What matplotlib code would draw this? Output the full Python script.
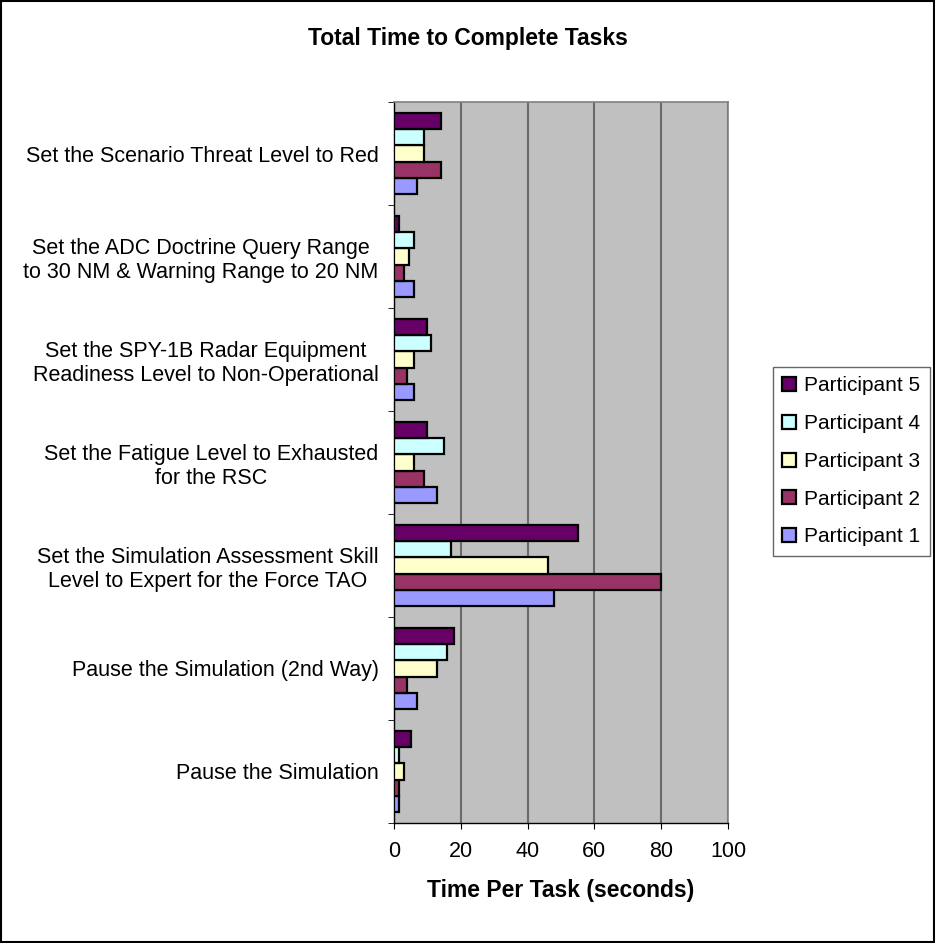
import matplotlib
matplotlib.use("Agg")
import matplotlib.pyplot as plt
import numpy as np

plt.rcParams['font.family'] = ['Liberation Sans', 'DejaVu Sans']

categories = [
    "Pause the Simulation",
    "Pause the Simulation (2nd Way)",
    "Set the Simulation Assessment Skill\nLevel to Expert for the Force TAO",
    "Set the Fatigue Level to Exhausted\nfor the RSC",
    "Set the SPY-1B Radar Equipment\nReadiness Level to Non-Operational",
    "Set the ADC Doctrine Query Range\nto 30 NM & Warning Range to 20 NM",
    "Set the Scenario Threat Level to Red",
]
series_names = ["Participant 1", "Participant 2", "Participant 3", "Participant 4", "Participant 5"]
p1 = [1.6, 7, 48, 13, 6, 6, 7]
p2 = [1.6, 4, 80, 9, 4, 3, 14]
p3 = [3, 13, 46, 6, 6, 4.5, 9]
p4 = [1.6, 16, 17, 15, 11, 6, 9]
p5 = [5, 18, 55, 10, 10, 1.6, 14]
series = [p1, p2, p3, p4, p5]
colors = ["#9999FF", "#993366", "#FFFFCC", "#CCFFFF", "#660066"]
x_ticks = [0, 20, 40, 60, 80, 100]

fig = plt.figure(figsize=(9.35, 9.43), dpi=100)
ax = fig.add_axes([0.4214, 0.1273, 0.3572, 0.7645])
ax.set_facecolor("#C0C0C0")

n = len(series)
bh = 0.157
y = np.arange(len(categories))
for i, (vals, c, name) in enumerate(zip(series, colors, series_names)):
    ax.barh(y + (i - (n - 1) / 2) * bh, vals, height=bh, color=c,
            edgecolor="black", linewidth=1.6, label=name, zorder=3)

ax.set_xlim(0, 100)
ax.set_ylim(-0.5, len(categories) - 0.5)
ax.set_xticks(x_ticks)
ax.set_xticklabels([str(t) for t in x_ticks], fontsize=15.5)
ax.xaxis.grid(True, color="#6a6a6a", linewidth=1.5, zorder=1)
ax.set_axisbelow(True)

ax.set_yticks(y)
ax.set_yticklabels(categories, fontsize=15.5)
for lbl in ax.get_yticklabels():
    lbl.set_multialignment('center')
ax.set_yticks(np.arange(-0.5, len(categories), 1.0), minor=True)
ax.tick_params(axis='y', which='major', length=0, pad=11)
ax.tick_params(axis='y', which='minor', length=4, direction='out', color='black')
ax.tick_params(axis='x', which='major', length=4, direction='out', pad=9)

for s in ['top', 'right']:
    ax.spines[s].set_color('#808080')
    ax.spines[s].set_linewidth(1.2)
for s in ['left', 'bottom']:
    ax.spines[s].set_color('black')
    ax.spines[s].set_linewidth(1)

ax.set_xlabel("Time Per Task (seconds)", fontsize=16.5, fontweight='bold', labelpad=12)
fig.text(0.5, 0.9597, "Total Time to Complete Tasks", ha='center', va='center',
         fontsize=16.5, fontweight='bold')

handles, labels = ax.get_legend_handles_labels()
leg = fig.legend(handles[::-1], labels[::-1], loc='upper left',
                 bbox_to_anchor=(0.8267, 0.6108), borderaxespad=0, fontsize=15,
                 frameon=True, fancybox=False, edgecolor='#404040',
                 handlelength=0.65, handleheight=0.65,
                 handletextpad=0.4, labelspacing=0.9, borderpad=0.45)
leg.get_frame().set_linewidth(1)

fig.patches.append(plt.Rectangle((0.001, 0.001), 0.998, 0.998, transform=fig.transFigure,
                                 fill=False, edgecolor='black', linewidth=1.5))
fig.savefig("out.png", dpi=100)
